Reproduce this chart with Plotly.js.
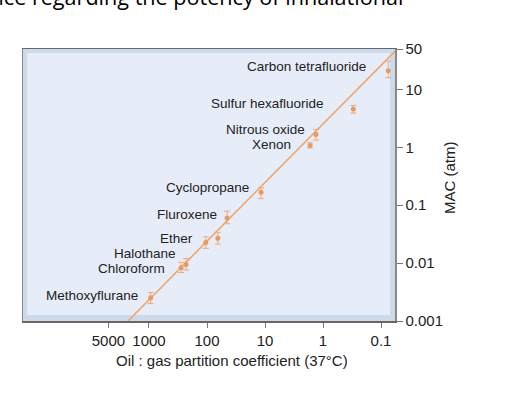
<!DOCTYPE html>
<html>
<head>
<meta charset="utf-8">
<script src="https://cdn.plot.ly/plotly-3.0.1.min.js"></script>
<style>html,body{margin:0;padding:0;background:#fff;}#chart{width:520px;height:394px;}</style>
</head>
<body>
<div id="chart"></div>
<script>
// Data
const agents = ["Carbon tetrafluoride","Sulfur hexafluoride","Nitrous oxide","Xenon","Cyclopropane","Fluroxene","","Ether","Halothane","Chloroform","Methoxyflurane"];
const oilGas = [0.075, 0.30, 1.32, 1.67, 11.7, 45, 65, 105, 230, 280, 935];
const mac    = [21, 4.6, 1.67, 1.08, 0.168, 0.060, 0.027, 0.0227, 0.0095, 0.0083, 0.00252];
const macHigh = [31, 5.3, 2.04, 1.2, 0.199, 0.079, 0.034, 0.0285, 0.012, 0.0103, 0.0031];
const macLow  = [16, 3.9, 1.34, 0.98, 0.13, 0.048, 0.0213, 0.018, 0.0076, 0.0069, 0.0020];
const fitX = [2300, 0.057];
const fitY = [0.001, 46];
const xTicks = [5000, 1000, 100, 10, 1, 0.1];
const xTickText = ["5000", "1000", "100", "10", "1", "0.1"];
const yTicks = [0.001, 0.01, 0.1, 1, 10, 50];
const yTickText = ["0.001", "0.01", "0.1", "1", "10", "50"];
// label offsets (pixels) relative to each point
const labelDx = [-20, -27, -9, -17, -10, -8, 0, -11, -8, -14, -11];
const labelDy = [4, 5, 5, 1, 5, 4, 0, 4, 11, -1, 2];

const orange = "#EB9A5E";
const traces = [
  {x: fitX, y: fitY, mode: "lines", line: {color: "#F0A66E", width: 1.6}, hoverinfo: "skip", showlegend: false},
  {x: oilGas, y: mac, mode: "markers", marker: {color: orange, size: 5},
   error_y: {type: "data", symmetric: false,
     array: mac.map((v, i) => macHigh[i] - v),
     arrayminus: mac.map((v, i) => v - macLow[i]),
     color: "#EDAA7C", thickness: 1, width: 3},
   showlegend: false, text: agents}
];

const labelFont = {family: "Liberation Sans, Arial, sans-serif", size: 13.5, color: "#222"};
const annotations = agents.map((a, i) => ({
  x: Math.log10(oilGas[i]), y: Math.log10(mac[i]), xref: "x", yref: "y",
  text: a, showarrow: false, xanchor: "right", yanchor: "middle",
  xshift: labelDx[i], yshift: labelDy[i], font: labelFont
})).filter(a => a.text !== "");

const tickFont = {family: "Liberation Sans, Arial, sans-serif", size: 15, color: "#222"};

annotations.push({
  xref: "paper", yref: "paper", x: 1.027, y: 1.132, xanchor: "right", yanchor: "bottom",
  text: "Evidence regarding the potency of inhalational", showarrow: false,
  font: {family: "Open Sans, Liberation Sans, sans-serif", size: 21.6, color: "#000"}
});
annotations.push({
  xref: "paper", yref: "paper", x: 0.562, y: -0.147, xanchor: "center", yanchor: "middle",
  text: "Oil : gas partition coefficient (37°C)", showarrow: false, font: tickFont
});
annotations.push({
  xref: "paper", yref: "paper", x: 1.148, y: 0.526, xanchor: "center", yanchor: "middle",
  text: "MAC (atm)", textangle: -90, showarrow: false, font: tickFont
});

const layout = {
  width: 520, height: 394,
  margin: {l: 23, r: 125, t: 49, b: 73},
  paper_bgcolor: "#ffffff",
  plot_bgcolor: "#CCDAEB",
  showlegend: false,
  xaxis: {
    type: "log", autorange: false, range: [5.172, -1.241],
    tickvals: xTicks, ticktext: xTickText, tickfont: tickFont,
    ticks: "outside", ticklen: 5, tickcolor: "#777", showgrid: false, zeroline: false,
    showline: true, linecolor: "#666", linewidth: 1.5, mirror: true
  },
  yaxis: {
    type: "log", autorange: false, range: [-3, 1.699], side: "right",
    tickvals: yTicks, ticktext: yTickText, tickfont: tickFont,
    ticks: "outside", ticklen: 6, tickcolor: "#777", showgrid: false, zeroline: false,
    showline: true, linecolor: "#888", linewidth: 1.5, mirror: true
  },
  shapes: [{type: "rect", xref: "paper", yref: "paper", x0: 0.0108, x1: 0.9866, y0: 0.022, y1: 0.985,
            fillcolor: "#E6EDF8", line: {width: 0}, layer: "below"}],
  annotations: annotations
};
Plotly.newPlot("chart", traces, layout, {displayModeBar: false, staticPlot: true});
</script>
</body>
</html>
